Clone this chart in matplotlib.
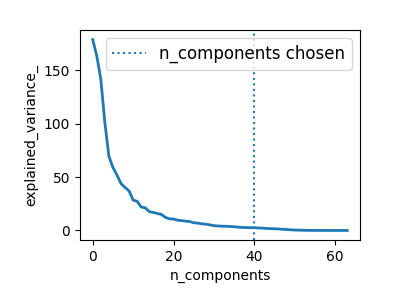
import matplotlib
matplotlib.use("Agg")
import matplotlib.pyplot as plt
import numpy as np

# explained variance per component
explained_variance = [179.0, 163.7, 141.8, 101.1, 69.5, 59.1, 51.9, 44.0, 40.3, 37.0,
                      28.5, 27.3, 21.9, 21.3, 17.6, 16.9, 15.9, 15.0, 12.2, 10.9,
                      10.7, 9.6, 9.2, 8.7, 8.4, 7.2, 6.9, 6.2, 5.9, 5.2,
                      4.5, 4.2, 4.0, 3.9, 3.7, 3.5, 3.1, 2.8, 2.7, 2.6,
                      2.6, 2.3, 2.2, 1.9, 1.7, 1.6, 1.4, 1.1, 0.9, 0.6,
                      0.4, 0.3, 0.2, 0.09, 0.06, 0.05, 0.03, 0.02, 0.01, 0.005,
                      0.004, 0.0, 0.0, 0.0]
n_chosen = 40

fig, ax = plt.subplots(figsize=(4, 3), dpi=100)
ax.plot(np.arange(len(explained_variance)), explained_variance, linewidth=2)
ax.set_ylabel("explained_variance_")
ax.set_xlabel("n_components")
ax.axvline(n_chosen, linestyle=":", label="n_components chosen")
ax.legend(prop=dict(size=12))
fig.subplots_adjust(left=0.2, right=0.9, bottom=0.2, top=0.9)
plt.savefig("out.png")
